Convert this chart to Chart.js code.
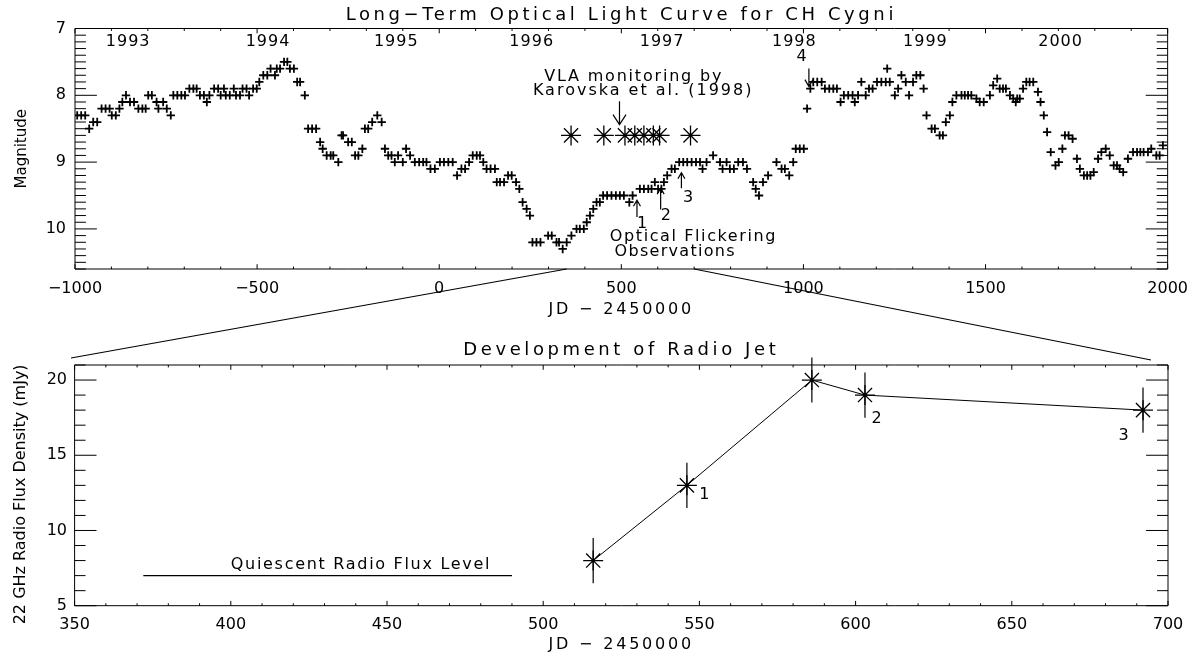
<!DOCTYPE html>
<html><head><meta charset="utf-8">
<script src="https://cdn.jsdelivr.net/npm/chart.js@4.4.1/dist/chart.umd.min.js"></script>
<style>
html,body{margin:0;padding:0;background:#fff;}
#wrap{position:relative;width:1198px;height:656px;overflow:hidden;background:#fff;}
#c1{position:absolute;left:0;top:0;}
#c2{position:absolute;left:0;top:330px;}
</style></head><body>
<div id="wrap"><canvas id="c2" width="1198" height="326"></canvas><canvas id="c1" width="1198" height="365"></canvas></div>
<script>
// ---------------- DATA ----------------
const lightJD = [-994,-983,-972,-961,-950,-939,-927,-916,-905,-899,-888,-878,-870,-860,-849,-838,-826,-815,-806,-799,-789,-776,-771,-758,-748,-737,-730,-719,-708,-698,-686,-675,-666,-657,-646,-638,-631,-618,-607,-600,-591,-586,-575,-564,-558,-547,-540,-529,-522,-511,-501,-494,-483,-472,-463,-451,-446,-437,-426,-417,-410,-399,-390,-382,-369,-360,-349,-338,-327,-320,-309,-298,-291,-277,-268,-264,-250,-240,-231,-222,-211,-204,-195,-184,-170,-158,-149,-140,-131,-122,-113,-100,-91,-80,-67,-55,-44,-35,-24,-12,2,13,25,37,49,61,71,82,92,103,112,121,130,141,153,158,167,178,189,199,211,220,229,240,249,256,267,278,299,309,322,329,339,350,363,377,386,397,405,414,423,432,441,450,461,473,485,496,507,522,531,551,562,574,583,592,601,610,617,626,638,647,659,670,681,693,705,716,723,734,752,771,778,789,798,809,821,834,845,862,869,878,889,903,926,940,949,961,972,979,990,1001,1010,1019,1027,1038,1050,1059,1071,1082,1092,1102,1111,1123,1135,1141,1150,1159,1171,1180,1190,1202,1214,1226,1230,1237,1251,1260,1269,1281,1290,1301,1310,1321,1330,1338,1352,1361,1374,1383,1391,1402,1409,1420,1434,1443,1452,1461,1475,1484,1495,1512,1521,1532,1539,1548,1556,1567,1576,1583,1587,1594,1603,1612,1621,1631,1644,1651,1660,1669,1679,1692,1701,1711,1718,1728,1739,1751,1759,1770,1779,1788,1797,1809,1818,1830,1841,1852,1861,1868,1878,1891,1905,1916,1925,1934,1946,1955,1969,1978,1987];
const lightMag = [8.3,8.3,8.3,8.5,8.4,8.4,8.2,8.2,8.2,8.3,8.3,8.2,8.1,8.0,8.1,8.1,8.2,8.2,8.2,8.0,8.0,8.1,8.2,8.1,8.2,8.3,8.0,8.0,8.0,8.0,7.9,7.9,7.9,8.0,8.0,8.1,8.0,7.9,7.9,8.0,7.9,8.0,8.0,7.9,8.0,8.0,7.9,7.9,8.0,7.9,7.9,7.8,7.7,7.7,7.6,7.7,7.6,7.6,7.5,7.5,7.6,7.6,7.8,7.8,8.0,8.5,8.5,8.5,8.7,8.8,8.9,8.9,8.9,9.0,8.6,8.6,8.7,8.7,8.9,8.9,8.8,8.5,8.5,8.4,8.3,8.4,8.8,8.9,8.9,9.0,8.9,9.0,8.8,8.9,9.0,9.0,9.0,9.0,9.1,9.1,9.0,9.0,9.0,9.0,9.2,9.1,9.1,9.0,8.9,8.9,8.9,9.0,9.1,9.1,9.1,9.3,9.3,9.3,9.2,9.2,9.3,9.4,9.6,9.7,9.8,10.2,10.2,10.2,10.1,10.1,10.2,10.2,10.3,10.2,10.1,10.0,10.0,10.0,9.9,9.8,9.7,9.6,9.6,9.5,9.5,9.5,9.5,9.5,9.5,9.6,9.5,9.4,9.4,9.4,9.4,9.3,9.4,9.4,9.3,9.2,9.1,9.1,9.0,9.0,9.0,9.0,9.0,9.0,9.1,9.0,8.9,9.0,9.1,9.0,9.1,9.1,9.0,9.0,9.1,9.3,9.4,9.5,9.3,9.2,9.0,9.1,9.1,9.2,9.0,8.8,8.8,8.8,8.2,7.9,7.8,7.8,7.8,7.9,7.9,7.9,7.9,8.1,8.0,8.0,8.0,8.1,8.0,7.8,8.0,7.9,7.9,7.8,7.8,7.8,7.6,7.8,8.0,7.9,7.7,7.8,8.0,7.8,7.7,7.7,7.9,8.3,8.5,8.5,8.6,8.6,8.4,8.3,8.1,8.0,8.0,8.0,8.0,8.0,8.05,8.1,8.1,8.0,7.85,7.75,7.9,7.9,7.9,8.0,8.05,8.1,8.05,8.05,7.9,7.8,7.8,7.8,7.95,8.1,8.3,8.55,8.85,9.05,9.0,8.8,8.6,8.6,8.65,8.95,9.1,9.2,9.2,9.2,9.15,8.95,8.85,8.8,8.9,9.05,9.05,9.1,9.15,8.95,8.85,8.85,8.85,8.85,8.85,8.8,8.9,8.9,8.75];
const vlaJD = [362, 452, 510, 537, 562, 588, 605, 690];
const vlaMag = [8.6, 8.6, 8.6, 8.6, 8.6, 8.6, 8.6, 8.6];
const yearLabels = ['1993','1994','1995','1996','1997','1998','1999','2000'];
const yearJD = [-854, -470, -118, 254, 612, 975, 1335, 1706];
const radioJD = [516, 546, 586, 603, 692];
const radioFlux = [8, 13, 20, 19, 18];
const radioErr = [1.5, 1.5, 1.5, 1.5, 1.5];
const radioLabels = ['1', '2', '3'];
const radioLabelJD = [551.6, 606.7, 685.8];
const radioLabelFlux = [12.4, 17.4, 16.3];
const quiescentJD = [372, 490];
const quiescentFlux = [7, 7];
const topXTicks = [-1000, -500, 0, 500, 1000, 1500, 2000];
const botXTicks = [350, 400, 450, 500, 550, 600, 650, 700];

// ---------------- STYLE / LAYOUT ----------------
const FONT = "'DejaVu Sans', sans-serif";
Chart.defaults.font.family = FONT;
Chart.defaults.font.size = 16;
Chart.defaults.color = '#000';

const fmt = v => (v < 0 ? '\u2212' + Math.abs(v) : String(v));

// letter spacing for Chart.js-drawn titles (Hershey-like wide text)
const spacingPlugin = {
  id: 'spacing',
  afterUpdate(chart) {
    const sp = chart.options.plugins.spacing || {};
    const wrap = (obj, name, s, expand) => {
      if (!obj || obj['_sp_' + name]) return;
      const orig = obj[name];
      obj[name] = function (...args) {
        const c = this.ctx; const prev = c.letterSpacing;
        c.letterSpacing = s || '0px';
        let t, b;
        if (expand) { t = this.top; b = this.bottom; this.top -= 60 - (expand.shift || 0); this.bottom += 60 + (expand.shift || 0); }
        try { return orig.apply(this, args); }
        finally { c.letterSpacing = prev; if (expand) { this.top = t; this.bottom = b; } }
      };
      obj['_sp_' + name] = true;
    };
    wrap(chart.titleBlock, 'draw', sp.title, false);
    for (const id in chart.scales) {
      const s = chart.scales[id];
      wrap(s, 'drawTitle', sp[id], s.isHorizontal() ? false : {shift: sp[id + 'Shift'] || 0});
    }
  }
};

const framePlugin = {
  id: 'frame',
  afterDatasetsDraw(chart, args, o) {
    const {ctx, chartArea: a, scales: {x, y}} = chart;
    ctx.save();
    ctx.strokeStyle = '#000';
    ctx.lineWidth = 1;
    ctx.beginPath();
    ctx.rect(a.left, a.top, a.right - a.left, a.bottom - a.top);
    const nx = Math.round((x.max - x.min) / o.xMinor);
    for (let k = 0; k <= nx; k++) {
      const px = x.getPixelForValue(x.min + k * o.xMinor);
      const len = (k % o.xEvery === 0) ? o.xLen : o.xLen / 2;
      ctx.moveTo(px, a.bottom); ctx.lineTo(px, a.bottom - len);
      ctx.moveTo(px, a.top); ctx.lineTo(px, a.top + len);
    }
    const ny = Math.round((y.max - y.min) / o.yMinor);
    for (let k = 0; k <= ny; k++) {
      const py = y.getPixelForValue(y.min + k * o.yMinor);
      const len = (k % o.yEvery === 0) ? o.yLen : o.yLen / 2;
      ctx.moveTo(a.left, py); ctx.lineTo(a.left + len, py);
      ctx.moveTo(a.right, py); ctx.lineTo(a.right - len, py);
    }
    ctx.stroke();
    ctx.restore();
  }
};

const notesPlugin = {
  id: 'notes',
  afterDatasetsDraw(chart, args, o) {
    const {ctx, scales: {x, y}} = chart;
    ctx.save();
    ctx.fillStyle = '#000'; ctx.strokeStyle = '#000';
    (o.texts || []).forEach(t => {
      ctx.font = `${t.size || 16}px ${FONT}`;
      ctx.letterSpacing = (t.spacing || 0) + 'px';
      ctx.textAlign = t.align || 'center';
      ctx.textBaseline = 'middle';
      ctx.fillText(t.text, x.getPixelForValue(t.x), y.getPixelForValue(t.y));
    });
    ctx.letterSpacing = '0px';
    ctx.lineWidth = 1.2;
    (o.arrows || []).forEach(a => {
      const px = x.getPixelForValue(a.x);
      const y0 = y.getPixelForValue(a.from), y1 = y.getPixelForValue(a.to);
      const dir = Math.sign(y1 - y0);
      ctx.beginPath();
      ctx.moveTo(px, y0); ctx.lineTo(px, y1);
      ctx.moveTo(px - a.hw, y1 - dir * a.hl); ctx.lineTo(px, y1); ctx.lineTo(px + a.hw, y1 - dir * a.hl);
      ctx.stroke();
    });
    ctx.restore();
  }
};

// zoom connector: from the zoomed JD range on the top axis to the corners of the lower panel
const ZOOM_RANGE = [350, 700];
const CONNECT_ENDS = [[71, 358], [1151, 360]];
const connectorPlugin = {
  id: 'connector',
  afterDraw(chart) {
    const {ctx, chartArea: a, scales: {x}} = chart;
    ctx.save();
    ctx.strokeStyle = '#000'; ctx.lineWidth = 1.1;
    ctx.beginPath();
    ZOOM_RANGE.forEach((v, i) => {
      ctx.moveTo(x.getPixelForValue(v), a.bottom);
      ctx.lineTo(CONNECT_ENDS[i][0], CONNECT_ENDS[i][1]);
    });
    ctx.stroke();
    ctx.restore();
  }
};

const errPlugin = {
  id: 'errbars',
  afterDatasetsDraw(chart) {
    const {ctx, scales: {x, y}} = chart;
    ctx.save();
    ctx.strokeStyle = '#000'; ctx.lineWidth = 1.2;
    ctx.beginPath();
    radioJD.forEach((jd, i) => {
      const px = x.getPixelForValue(jd);
      ctx.moveTo(px, y.getPixelForValue(radioFlux[i] - radioErr[i]));
      ctx.lineTo(px, y.getPixelForValue(radioFlux[i] + radioErr[i]));
    });
    ctx.stroke();
    ctx.restore();
  }
};

// ---------------- TOP CHART ----------------
const topTexts = yearLabels.map((t, i) => ({text: t, x: yearJD[i], y: 7.2, size: 16, spacing: 1}));
topTexts.push(
  {text: 'VLA monitoring by', x: 534, y: 7.73, size: 16, spacing: 1.8},
  {text: 'Karovska et al. (1998)', x: 560, y: 7.93, size: 16, spacing: 2},
  {text: 'Optical Flickering', x: 698, y: 10.12, size: 16, spacing: 1.6},
  {text: 'Observations', x: 648, y: 10.34, size: 16, spacing: 1.3},
  {text: '1', x: 557, y: 9.93, size: 16},
  {text: '2', x: 622, y: 9.81, size: 16},
  {text: '3', x: 683, y: 9.53, size: 16},
  {text: '4', x: 995, y: 7.43, size: 16}
);
const topArrows = [
  {x: 495, from: 8.09, to: 8.44, hw: 6.5, hl: 10},
  {x: 543, from: 9.82, to: 9.57, hw: 3.5, hl: 6},
  {x: 608, from: 9.71, to: 9.39, hw: 3.5, hl: 6},
  {x: 665, from: 9.39, to: 9.16, hw: 3.5, hl: 6},
  {x: 1015, from: 7.6, to: 7.87, hw: 4, hl: 7}
];

new Chart(document.getElementById('c1'), {
  type: 'scatter',
  data: {
    datasets: [
      {label: 'V magnitude', data: lightJD.map((j, i) => ({x: j, y: lightMag[i]})),
       pointStyle: 'cross', pointRadius: 4.2, pointBorderWidth: 1.8, borderColor: '#000', backgroundColor: '#000'},
      {label: 'VLA', data: vlaJD.map((j, i) => ({x: j, y: vlaMag[i]})),
       pointStyle: 'star', pointRadius: 10, pointBorderWidth: 1.3, borderColor: '#000', backgroundColor: '#000'}
    ]
  },
  options: {
    responsive: false, animation: false, events: [], devicePixelRatio: 1,
    layout: {padding: {left: 0, right: 30, top: 0, bottom: 0}},
    plugins: {
      legend: {display: false}, tooltip: {enabled: false},
      title: {display: true, fullSize: false, text: 'Long\u2212Term Optical Light Curve for CH Cygni', color: '#000',
              font: {size: 18, weight: 'normal'}, padding: {top: 4.2, bottom: 2.7}},
      spacing: {title: '3.6px', x: '2.8px'},
      frame: {xMinor: 100, xEvery: 5, xLen: 4.8, yMinor: 0.1, yEvery: 10, yLen: 21.9},
      notes: {texts: topTexts, arrows: topArrows}
    },
    scales: {
      x: {type: 'linear', min: -1000, max: 2000,
          grid: {display: false, drawTicks: false}, border: {display: false},
          afterBuildTicks: s => { s.ticks = topXTicks.map(v => ({value: v})); },
          ticks: {callback: fmt, padding: 10, maxRotation: 0, autoSkip: false, font: {size: 16}},
          title: {display: true, text: 'JD \u2212 2450000', font: {size: 16}, padding: {top: 0, bottom: 45.4}},
          afterFit: s => { s.height = 96; }},
      y: {type: 'linear', min: 7, max: 10.6, reverse: true,
          grid: {display: false, drawTicks: false}, border: {display: false},
          ticks: {stepSize: 1, includeBounds: false, padding: 9, font: {size: 16}},
          title: {display: true, text: 'Magnitude', font: {size: 15}, padding: {top: 13, bottom: 0}},
          afterFit: s => { s.width = 75; }}
    }
  },
  plugins: [spacingPlugin, framePlugin, notesPlugin, connectorPlugin]
});

// ---------------- BOTTOM CHART ----------------
const botTexts = radioLabels.map((t, i) => ({text: t, x: radioLabelJD[i], y: radioLabelFlux[i], size: 16}));
botTexts.push({text: 'Quiescent Radio Flux Level', x: 400, y: 7.71, size: 16, spacing: 1.7, align: 'left'});

new Chart(document.getElementById('c2'), {
  type: 'scatter',
  data: {
    datasets: [
      {label: '22 GHz flux', data: radioJD.map((j, i) => ({x: j, y: radioFlux[i]})), showLine: true,
       borderColor: '#000', borderWidth: 1, backgroundColor: '#000',
       pointStyle: 'star', pointRadius: 10, pointBorderWidth: 1.3, pointBorderColor: '#000'},
      {label: 'Quiescent level', data: quiescentJD.map((j, i) => ({x: j, y: quiescentFlux[i]})), showLine: true,
       borderColor: '#000', borderWidth: 1.2, pointRadius: 0}
    ]
  },
  options: {
    responsive: false, animation: false, events: [], devicePixelRatio: 1,
    layout: {padding: {left: 0, right: 30, top: 0, bottom: 0}},
    plugins: {
      legend: {display: false}, tooltip: {enabled: false},
      title: {display: true, fullSize: false, text: 'Development of Radio Jet', color: '#000',
              font: {size: 18, weight: 'normal'}, padding: {top: 9.2, bottom: 4.2}},
      spacing: {title: '3.6px', x: '2.8px', yShift: 9},
      frame: {xMinor: 10, xEvery: 5, xLen: 4.8, yMinor: 1, yEvery: 5, yLen: 21.9},
      notes: {texts: botTexts}
    },
    scales: {
      x: {type: 'linear', min: 350, max: 700,
          grid: {display: false, drawTicks: false}, border: {display: false},
          afterBuildTicks: s => { s.ticks = botXTicks.map(v => ({value: v})); },
          ticks: {callback: fmt, padding: 10, maxRotation: 0, autoSkip: false, font: {size: 16}},
          title: {display: true, text: 'JD \u2212 2450000', font: {size: 16}, padding: {top: 0, bottom: 1.4}},
          afterFit: s => { s.height = 50.3; }},
      y: {type: 'linear', min: 5, max: 21,
          grid: {display: false, drawTicks: false}, border: {display: false},
          ticks: {stepSize: 5, includeBounds: false, padding: 7.6, font: {size: 16}},
          title: {display: true, text: '22 GHz Radio Flux Density (mJy)', font: {size: 16}, padding: {top: 11.4, bottom: 0}},
          afterFit: s => { s.width = 74.6; }}
    }
  },
  plugins: [spacingPlugin, framePlugin, notesPlugin, errPlugin]
});
</script>
</body></html>
